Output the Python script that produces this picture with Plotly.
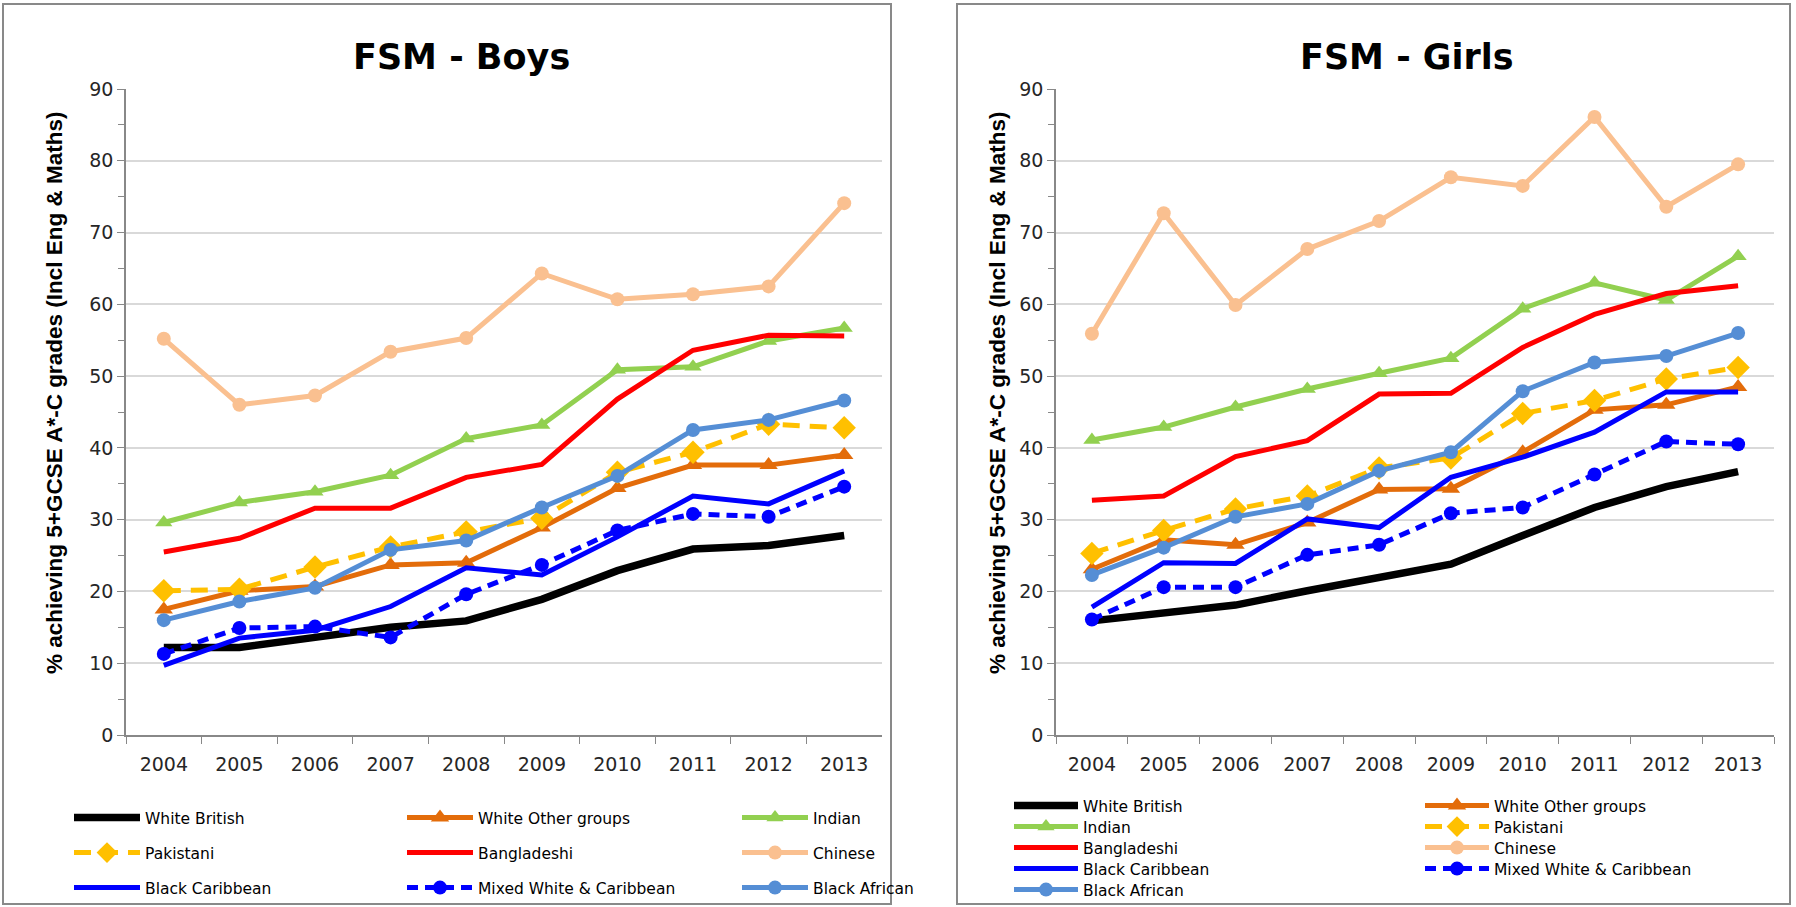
import plotly.graph_objects as go

W, H = 1796, 907

years = ['2004', '2005', '2006', '2007', '2008', '2009', '2010', '2011', '2012', '2013']
series_names = ['White British', 'White Other groups', 'Indian', 'Pakistani', 'Bangladeshi',
                'Chinese', 'Black Caribbean', 'Mixed White & Caribbean', 'Black African']

# FSM - Boys
wb_b = [12.2, 12.2, 13.6, 15.0, 15.9, 18.9, 22.9, 25.9, 26.4, 27.8]
wo_b = [17.5, 20.1, 20.7, 23.7, 24.0, 28.9, 34.4, 37.6, 37.6, 39.0]
ind_b = [29.6, 32.4, 33.9, 36.2, 41.3, 43.2, 50.9, 51.3, 54.9, 56.7]
pak_b = [20.1, 20.3, 23.4, 26.2, 28.3, 30.2, 36.6, 39.4, 43.3, 42.8]
ban_b = [25.5, 27.4, 31.6, 31.6, 35.9, 37.7, 46.8, 53.6, 55.7, 55.6]
chi_b = [55.2, 46.0, 47.3, 53.4, 55.3, 64.3, 60.7, 61.4, 62.5, 74.1]
bc_b = [9.7, 13.5, 14.6, 17.9, 23.3, 22.3, 27.6, 33.3, 32.2, 36.8]
mix_b = [11.3, 14.9, 15.1, 13.6, 19.6, 23.7, 28.5, 30.8, 30.4, 34.6]
ba_b = [16.0, 18.6, 20.5, 25.8, 27.1, 31.7, 36.1, 42.5, 43.9, 46.6]

# FSM - Girls
wb_g = [15.9, 17.1, 18.1, 20.1, 22.0, 23.8, 27.8, 31.7, 34.6, 36.7]
wo_g = [23.1, 27.2, 26.5, 29.6, 34.2, 34.3, 39.4, 45.3, 46.0, 48.5]
ind_g = [41.1, 42.9, 45.7, 48.2, 50.4, 52.5, 59.4, 63.0, 60.6, 66.7]
pak_g = [25.3, 28.5, 31.5, 33.3, 37.2, 38.6, 44.8, 46.6, 49.6, 51.2]
ban_g = [32.7, 33.3, 38.8, 41.0, 47.5, 47.6, 54.0, 58.6, 61.5, 62.6]
chi_g = [55.9, 72.7, 59.9, 67.7, 71.6, 77.7, 76.5, 86.1, 73.6, 79.5]
bc_g = [17.8, 24.0, 23.9, 30.1, 28.9, 35.9, 38.7, 42.2, 47.8, 47.8]
mix_g = [16.1, 20.6, 20.6, 25.1, 26.5, 30.9, 31.7, 36.3, 40.9, 40.5]
ba_g = [22.3, 26.1, 30.4, 32.2, 36.8, 39.4, 47.9, 51.9, 52.8, 56.0]

boys = [wb_b, wo_b, ind_b, pak_b, ban_b, chi_b, bc_b, mix_b, ba_b]
girls = [wb_g, wo_g, ind_g, pak_g, ban_g, chi_g, bc_g, mix_g, ba_g]

y_ticks = [0, 10, 20, 30, 40, 50, 60, 70, 80, 90]

styles = [
    dict(color='#000000', width=7.5, dash='solid', symbol=None, msize=0),
    dict(color='#E36C0A', width=5, dash='solid', symbol='triangle-up', msize=16),
    dict(color='#92D050', width=5, dash='solid', symbol='triangle-up', msize=15),
    dict(color='#FFC000', width=5, dash='17px,10px', symbol='diamond', msize=18),
    dict(color='#FF0000', width=5, dash='solid', symbol=None, msize=0),
    dict(color='#FAC090', width=5, dash='solid', symbol='circle', msize=14),
    dict(color='#0000FF', width=5, dash='solid', symbol=None, msize=0),
    dict(color='#0000FF', width=5, dash='11px,7px', symbol='circle', msize=14),
    dict(color='#558ED5', width=5, dash='solid', symbol='circle', msize=14),
]

def px(x):
    return x / W

def py(y):
    return 1 - y / H

# plot areas in pixels
L_X0, L_X1 = 126, 882
R_X0, R_X1 = 1056, 1774
Y_TOP, Y_BOT = 89, 735

# legend positions (pixels): line start x, row center y
left_cols = [74, 407, 742]
left_rows = [818, 853, 888]
left_grid = [(0, 0), (0, 1), (0, 2), (1, 0), (1, 1), (1, 2), (2, 0), (2, 1), (2, 2)]
right_cols = [1014, 1425]
right_rows = [806, 827, 848, 869, 890]
right_grid = [(0, 0), (0, 1), (1, 0), (1, 1), (2, 0), (2, 1), (3, 0), (3, 1), (4, 0)]

fig = go.Figure()
legend_layouts = {}
legend_font = dict(family='DejaVu Sans', size=15.5, color='#000000')

def add_panel(data, xa, ya, cols, rows, grid, offset, itemwidth):
    for i, (name, vals, st) in enumerate(zip(series_names, data, styles)):
        lid = 'legend' if offset + i == 0 else f'legend{offset + i + 1}'
        mode = 'lines+markers' if st['symbol'] else 'lines'
        tr = dict(
            x=years, y=vals, name=name, mode=mode, xaxis=xa, yaxis=ya,
            line=dict(color=st['color'], width=st['width'], dash=st['dash']),
            legend=lid, showlegend=True, hoverinfo='x+y+name',
        )
        if st['symbol']:
            tr['marker'] = dict(symbol=st['symbol'], size=st['msize'], color=st['color'],
                                line=dict(width=0))
        fig.add_trace(go.Scatter(**tr))
        r, c = grid[i]
        legend_layouts[lid] = dict(
            x=px(cols[c] - 5), y=py(rows[r]), xanchor='left', yanchor='middle',
            orientation='v', bgcolor='rgba(0,0,0,0)', borderwidth=0,
            font=legend_font, itemwidth=itemwidth,
        )

add_panel(boys, 'x', 'y', left_cols, left_rows, left_grid, 0, 66)
add_panel(girls, 'x2', 'y2', right_cols, right_rows, right_grid, 9, 64)

tick_font = dict(family='DejaVu Sans', size=19, color='#262626')
axis_common_x = dict(
    type='category', range=[-0.5, 9.5], tickson='boundaries', ticks='outside', ticklen=7,
    tickcolor='#888888', showline=True, linecolor='#888888', linewidth=1.5,
    showgrid=False, tickfont=tick_font, ticklabelstandoff=11, fixedrange=True,
    automargin=False,
)
axis_common_y = dict(
    range=[0, 90], tickvals=y_ticks, ticks='outside', ticklen=7, tickcolor='#888888',
    showline=True, linecolor='#888888', linewidth=1.5, showgrid=True, gridcolor='#D9D9D9',
    gridwidth=1.5, zeroline=False, tickfont=tick_font,
    minor=dict(dtick=5, tick0=0, ticks='outside', ticklen=6, tickcolor='#888888', showgrid=False),
    fixedrange=True, automargin=False,
)

ytitle = '<b>% achieving 5+GCSE A*-C grades (Incl Eng &amp; Maths)</b>'
layout = dict(
    width=W, height=H, autosize=False,
    margin=dict(l=0, r=0, t=0, b=0, pad=0, autoexpand=False),
    paper_bgcolor='white', plot_bgcolor='white',
    xaxis=dict(domain=[px(L_X0), px(L_X1)], anchor='y', **axis_common_x),
    yaxis=dict(domain=[py(Y_BOT), py(Y_TOP)], anchor='x', **axis_common_y),
    xaxis2=dict(domain=[px(R_X0), px(R_X1)], anchor='y2', **axis_common_x),
    yaxis2=dict(domain=[py(Y_BOT), py(Y_TOP)], anchor='x2', **axis_common_y),
    shapes=[
        dict(type='rect', xref='paper', yref='paper', x0=px(3), x1=px(891), y0=py(904), y1=py(4),
             line=dict(color='#898989', width=2)),
        dict(type='rect', xref='paper', yref='paper', x0=px(957), x1=px(1790), y0=py(904), y1=py(4),
             line=dict(color='#898989', width=2)),
    ],
    annotations=[
        dict(text='<b>FSM - Boys</b>', x=px(462), y=py(57), xref='paper', yref='paper',
             showarrow=False, xanchor='center', yanchor='middle',
             font=dict(family='DejaVu Sans', size=35, color='#000000')),
        dict(text='<b>FSM - Girls</b>', x=px(1407), y=py(57), xref='paper', yref='paper',
             showarrow=False, xanchor='center', yanchor='middle',
             font=dict(family='DejaVu Sans', size=35, color='#000000')),
        dict(text=ytitle, x=px(54), y=py(393),
             xref='paper', yref='paper', showarrow=False, textangle=-90,
             xanchor='center', yanchor='middle',
             font=dict(family='Liberation Sans', size=22.5, color='#000000')),
        dict(text=ytitle, x=px(997), y=py(393),
             xref='paper', yref='paper', showarrow=False, textangle=-90,
             xanchor='center', yanchor='middle',
             font=dict(family='Liberation Sans', size=22.5, color='#000000')),
    ],
    hovermode='closest',
)
layout.update(legend_layouts)
fig.update_layout(**layout)

post = ("document.documentElement.style.margin='0';document.documentElement.style.overflow='hidden';"
        "document.body.style.margin='0';document.body.style.overflow='hidden';"
        "var gd=document.getElementById('{plot_id}');"
        "gd.style.position='absolute';gd.style.left='0px';gd.style.top='0px';")
fig.write_html('out.html', post_script=post, config={'displayModeBar': False})
